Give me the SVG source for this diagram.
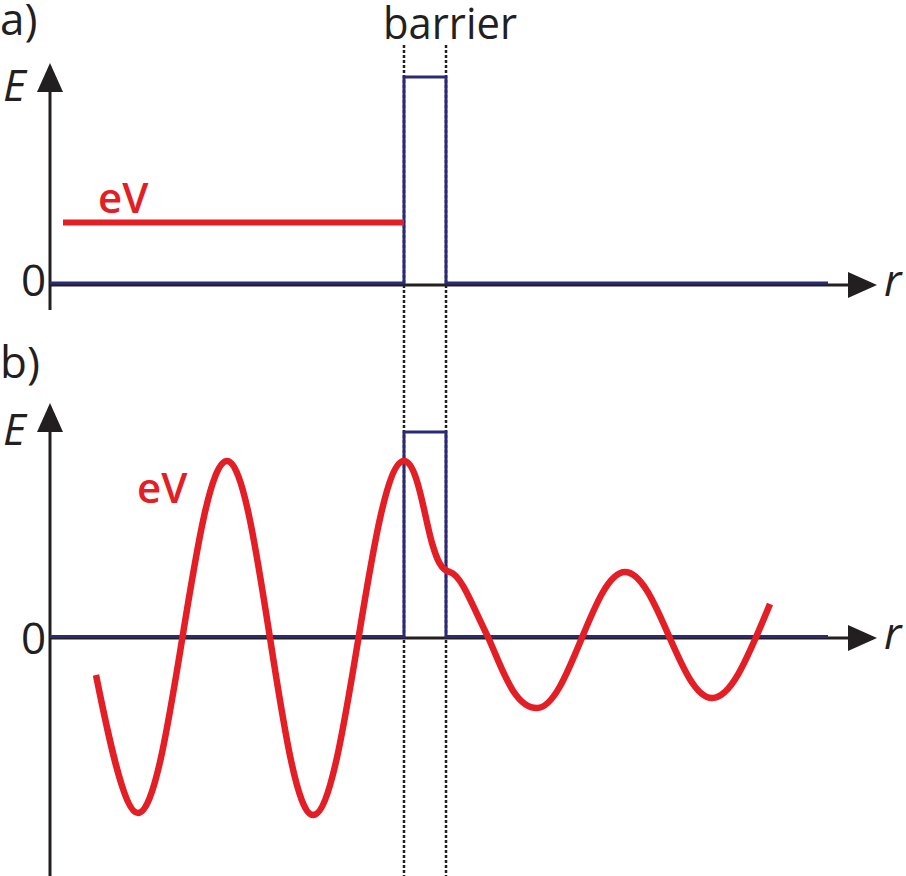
<svg xmlns="http://www.w3.org/2000/svg" width="906" height="876" viewBox="0 0 906 876">
<style>
.lbl{font-family:"Open Sans","Liberation Sans",sans-serif;fill:#231f20;font-size:44px}
.it{font-style:italic}
.ev{font-family:"Open Sans","Liberation Sans",sans-serif;fill:#e31e24;font-size:42px;font-weight:600}
.axis{stroke:#231f20;stroke-width:3;fill:none}
.pot{stroke:#2b2a78;stroke-width:3;fill:none}
.dot{stroke:#231f20;stroke-width:2.5;stroke-dasharray:3 2;fill:none}
.wave{stroke:#e31e24;stroke-width:6.5;fill:none}
.head{fill:#231f20}
</style>
<rect width="906" height="876" fill="#fff"/>
<g id="guides">
<line class="dot" x1="404" y1="45" x2="404" y2="876"/>
<line class="dot" x1="446" y1="45" x2="446" y2="876"/>
</g>
<g id="panel-a">
<text class="lbl" x="0" y="35" font-size="42">a)</text>
<text class="lbl" x="383" y="39" font-size="42" textLength="134" lengthAdjust="spacingAndGlyphs">barrier</text>
<g id="a-axes">
<line class="axis" x1="50" y1="80" x2="50" y2="310"/>
<polygon class="head" points="50,63 37,92 63,92"/>
<line class="axis" x1="50" y1="285" x2="860" y2="285"/>
<polygon class="head" points="877,285 848,272 848,298"/>
<text class="lbl it" x="3" y="101">E</text>
<text class="lbl" x="21" y="296">0</text>
<text class="lbl it" x="884" y="296">r</text>
</g>
<g id="a-barrier">
<path class="pot" d="M50,283 H404 V77 H446 V283 H828"/>
</g>
<g id="a-ev">
<line x1="63" y1="222.5" x2="404" y2="222.5" stroke="#e31e24" stroke-width="6"/>
<text class="ev" x="98" y="213">eV</text>
</g>
</g>
<g id="panel-b">
<text class="lbl" x="0" y="378">b)</text>
<g id="b-axes">
<line class="axis" x1="50" y1="420" x2="50" y2="876"/>
<polygon class="head" points="50,403 37,432 63,432"/>
<line class="axis" x1="50" y1="638" x2="860" y2="638"/>
<polygon class="head" points="877,638 848,625 848,651"/>
<text class="lbl it" x="3" y="445">E</text>
<text class="lbl" x="21" y="654">0</text>
<text class="lbl it" x="884" y="649">r</text>
</g>
<g id="b-barrier">
<path class="pot" d="M50,636.5 H404 V432 H446 V636.5 H828"/>
</g>
<g id="b-wave">
<path class="wave" d="M96,675 C108,735 124,813 138,813 C170,813 195,461 227,461 C258,461 282,815 313,815 C346,815 371,461 404,461 C417,461 424,515 432,543 C437,560 441,570 450,572 C462,576 472,605 488,637 C502,668 514,708 537,708 C569,708 593,572 625,572 C657,572 680,698 712,698 C730,698 745,665 770,604"/>
<text class="ev" x="137" y="503">eV</text>
</g>
</g>
</svg>
